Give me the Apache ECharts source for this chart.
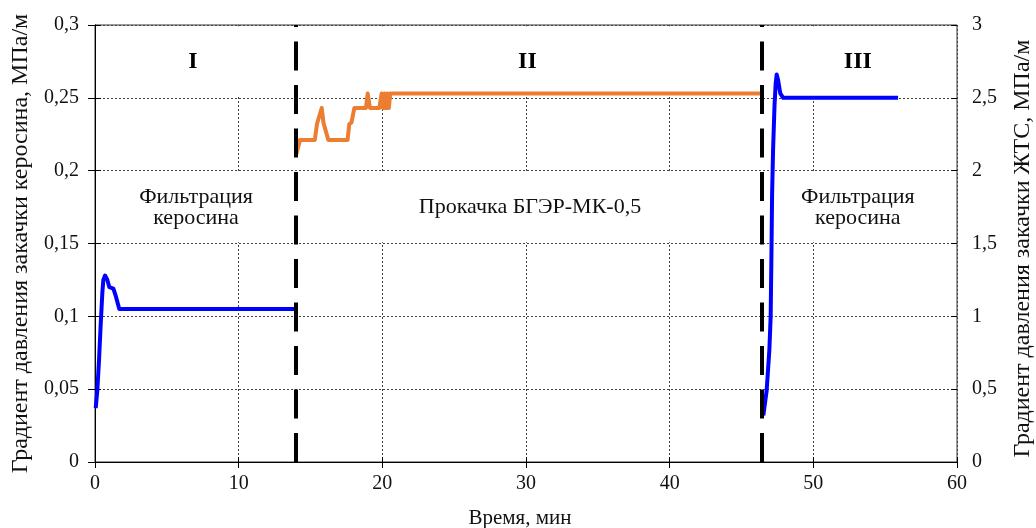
<!DOCTYPE html>
<html>
<head>
<meta charset="utf-8">
<script src="https://cdn.jsdelivr.net/npm/echarts@6/dist/echarts.min.js"></script>
<style>
  html, body { margin: 0; padding: 0; background: #fff; }
  #chart { width: 1036px; height: 528px; }
</style>
</head>
<body>
<div id="chart"></div>
<script>
// Stage I: kerosene filtration (left axis, MPa/m)
const stage1Time = [0.05, 0.16, 0.28, 0.39, 0.51, 0.58, 0.70, 0.86, 1.00, 1.28, 1.46, 1.69, 13.9];
const stage1Grad = [0.037, 0.049, 0.070, 0.093, 0.116, 0.125, 0.128, 0.125, 0.120, 0.119, 0.1135, 0.105, 0.105];

// Stage II: BGER-MK-0.5 pumping (right axis, MPa/m)
const stage2Time = [14.0, 14.27, 15.3, 15.45, 15.55, 15.78, 15.9, 16.0, 16.24, 17.58, 17.7, 17.85, 18.05, 18.86, 18.98, 19.14, 19.79,
                    19.95, 20.05, 20.15, 20.25, 20.35, 20.45, 20.55, 20.65, 46.4];
const stage2Grad = [2.11, 2.21, 2.21, 2.32, 2.33, 2.43, 2.33, 2.32, 2.21, 2.21, 2.32, 2.33, 2.43, 2.43, 2.53, 2.43, 2.43,
                    2.53, 2.43, 2.53, 2.43, 2.53, 2.43, 2.53, 2.53, 2.53];

// Stage III: kerosene filtration again (left axis, MPa/m)
const stage3Time = [46.52, 46.75, 46.94, 47.03, 47.08, 47.13, 47.2, 47.3, 47.38, 47.45, 47.55, 47.7, 47.9, 55.9];
const stage3Grad = [0.032, 0.049, 0.077, 0.100, 0.139, 0.184, 0.215, 0.245, 0.260, 0.266, 0.262, 0.253, 0.250, 0.250];

// Stage boundaries (min)
const stageBounds = [14, 46.4];

// Stage captions
const stageNames = ['I', 'II', 'III'];
const stageNameTime = [6.82, 30.1, 53.1];
const stageNameGrad = 0.2746;
const stageNotes = ['Фильтрация\nкеросина', 'Прокачка БГЭР-МК-0,5', 'Фильтрация\nкеросина'];
const stageNoteTime = [7.03, 30.28, 53.1];
const stageNoteGrad = 0.1747;

// Bands occupied by caption boxes (left-axis units)
const captionBands = [[0.15, 0.2], [0.25, 0.3]];

const serif = 'Liberation Serif';
const comma = v => String(Math.round(v * 100) / 100).replace('.', ',');

const chart = echarts.init(document.getElementById('chart'));

const baseText = { fontFamily: serif, color: '#111', fontSize: 20 };
const titleText = { fontFamily: serif, color: '#111', fontSize: 24 };

const option = {
  animation: false,
  grid: {
    left: 95, right: 79, top: 25, bottom: 66,
    containLabel: false, outerBoundsMode: 'none',
    show: true, borderColor: '#333', borderWidth: 1, backgroundColor: 'transparent'
  },
  xAxis: [
    {
      type: 'value', min: 0, max: 60, interval: 10, position: 'bottom',
      name: 'Время, мин', nameLocation: 'middle', nameGap: 46,
      nameTextStyle: { fontFamily: serif, color: '#111', fontSize: 21, padding: [0, 12, 0, 0] },
      axisLine: { show: true, lineStyle: { color: '#000', width: 1 } },
      axisTick: { show: true, length: 6, lineStyle: { color: '#000' } },
      axisLabel: Object.assign({}, baseText, { margin: 12 }),
      splitLine: { show: true, lineStyle: { color: '#444', type: [2, 2], width: 1 } }
    },
    {
      type: 'value', min: 0, max: 60, interval: 10, position: 'bottom',
      axisLine: { show: false }, axisLabel: { show: false }, splitLine: { show: false },
      axisTick: { show: true, inside: true, length: 5, lineStyle: { color: '#000' } }
    }
  ],
  yAxis: [
    {
      type: 'value', min: 0, max: 0.3, interval: 0.05, position: 'left',
      name: 'Градиент давления закачки керосина, МПа/м', nameLocation: 'middle', nameGap: 57, nameRotate: 90,
      nameTextStyle: titleText,
      axisLine: { show: true, lineStyle: { color: '#000', width: 1 } },
      axisTick: { show: true, length: 7, lineStyle: { color: '#000' } },
      axisLabel: Object.assign({}, baseText, { margin: 16, formatter: comma }),
      splitLine: { show: true, lineStyle: { color: '#444', type: [2, 2], width: 1 } }
    },
    {
      type: 'value', min: 0, max: 3, interval: 0.5, position: 'right',
      name: 'Градиент давления закачки ЖТС, МПа/м', nameLocation: 'middle', nameGap: 54, nameRotate: 90,
      nameTextStyle: Object.assign({}, titleText, { padding: [0, 10, 0, 0] }),
      axisLine: { show: true, lineStyle: { color: '#000', width: 1 } },
      axisTick: { show: true, length: 6, lineStyle: { color: '#000' } },
      axisLabel: Object.assign({}, baseText, { margin: 15, formatter: comma }),
      splitLine: { show: false }
    },
    {
      type: 'value', min: 0, max: 0.3, interval: 0.05, position: 'left',
      axisLine: { show: false }, axisLabel: { show: false }, splitLine: { show: false },
      axisTick: { show: true, inside: true, length: 6, lineStyle: { color: '#000' } }
    },
    {
      type: 'value', min: 0, max: 3, interval: 0.5, position: 'right',
      axisLine: { show: false }, axisLabel: { show: false }, splitLine: { show: false },
      axisTick: { show: true, inside: true, length: 6, lineStyle: { color: '#000' } }
    }
  ],
  series: [
    {
      // white caption boxes hiding the vertical grid
      type: 'line', z: 1, silent: true, data: [],
      markArea: {
        silent: true,
        itemStyle: { color: '#fff' },
        data: captionBands.map(b => [
          { xAxis: 0.08, yAxis: b[0] + 0.0008 },
          { xAxis: 59.92, yAxis: b[1] - 0.0008 }
        ])
      }
    },
    {
      type: 'line', z: 3, yAxisIndex: 0, showSymbol: false, symbol: 'none',
      lineStyle: { color: '#0000FF', width: 4, join: 'round' },
      data: stage1Time.map((t, i) => [t, stage1Grad[i]])
    },
    {
      type: 'line', z: 3, yAxisIndex: 1, showSymbol: false, symbol: 'none',
      lineStyle: { color: '#ED7D31', width: 4, join: 'round' },
      data: stage2Time.map((t, i) => [t, stage2Grad[i]])
    },
    {
      type: 'line', z: 3, yAxisIndex: 0, showSymbol: false, symbol: 'none',
      lineStyle: { color: '#0000FF', width: 4, join: 'round' },
      data: stage3Time.map((t, i) => [t, stage3Grad[i]])
    },
    {
      // stage boundaries
      type: 'line', z: 5, yAxisIndex: 0, data: [], silent: true,
      markLine: {
        silent: true, symbol: ['none', 'none'], label: { show: false },
        lineStyle: { color: '#000', width: 4, type: [29, 14.5] },
        emphasis: { disabled: true },
        data: stageBounds.map(x => [{ coord: [x, 0] }, { coord: [x, 0.3] }])
      }
    },
    {
      // stage captions
      type: 'scatter', z: 6, yAxisIndex: 0, symbolSize: 0, silent: true,
      itemStyle: { opacity: 1 },
      data: stageNames.map((n, i) => ({
        value: [stageNameTime[i], stageNameGrad],
        label: {
          show: true, position: 'inside', formatter: n,
          fontFamily: serif, fontWeight: 'bold', fontSize: 24, color: '#000'
        }
      })).concat(stageNotes.map((n, i) => ({
        value: [stageNoteTime[i], stageNoteGrad],
        label: {
          show: true, position: 'inside', formatter: n, align: 'center',
          fontFamily: serif, fontSize: 22, lineHeight: 21, color: '#111'
        }
      })))
    }
  ]
};

chart.setOption(option);
</script>
</body>
</html>
